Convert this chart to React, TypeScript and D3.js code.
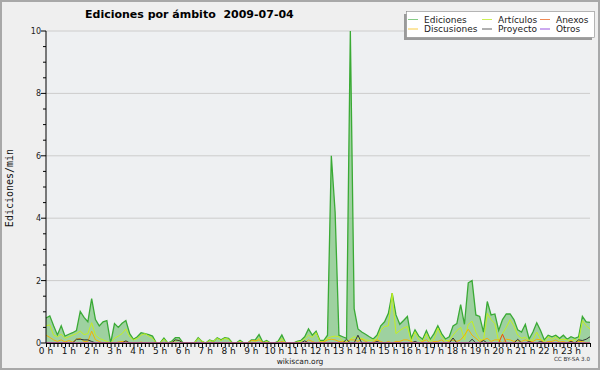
import * as React from "react";
import * as d3 from "d3";

// edits per minute, one value per 10 minutes (00:00 .. 23:50)
const ediciones = [
  0.8, 0.87, 0.55, 0.26, 0.55, 0.22, 0.28, 0.33, 0.4, 1.01, 0.82, 0.68,
  1.42, 0.75, 0.55, 0.68, 0.72, 0, 0.62, 0.5, 0.63, 0.72, 0.3, 0.12,
  0.2, 0.33, 0.3, 0.27, 0.22, 0, 0, 0.16, 0, 0.05, 0.17, 0.17,
  0, 0, 0, 0, 0.17, 0.05, 0, 0.1, 0.05, 0.17, 0.1, 0.17,
  0.15, 0, 0, 0.09, 0, 0, 0.1, 0.1, 0.27, 0.02, 0.08, 0,
  0, 0.05, 0.26, 0, 0, 0, 0.05, 0.08, 0.2, 0.45, 0.25, 0.38,
  0.08, 0.08, 0.25, 6.0, 4.2, 0.25, 0.2, 0.15, 10, 1.1, 0.45, 0.35,
  0.28, 0.2, 0.13, 0.25, 0.55, 0.68, 0.95, 1.6, 0.9, 0.6, 0.72, 0.85,
  0.15, 0.42, 0.22, 0.12, 0.4, 0.12, 0.3, 0.55, 0.3, 0.13, 0.2, 0.55,
  0.62, 1.23, 0.6, 1.93, 2.0, 0.9, 0.85, 0.35, 1.33, 0.9, 0.93, 0.4,
  0.75, 0.93, 0.93, 0.75, 0.42, 0.35, 0.6, 0.13, 0.35, 0.65, 0.4, 0.1,
  0.25, 0.2, 0.25, 0.15, 0.25, 0.12, 0.2, 0.15, 0.2, 0.85, 0.68, 0.66,
];

const articulos = [
  0.55, 0.58, 0.25, 0.2, 0.28, 0.15, 0.2, 0.25, 0.3, 0.38, 0.27, 0.3,
  0.65, 0.25, 0.15, 0.1, 0.05, 0, 0.15, 0.22, 0.3, 0.45, 0.2, 0.1,
  0.15, 0.25, 0.3, 0.22, 0.15, 0, 0, 0.12, 0, 0.03, 0.07, 0.09,
  0, 0, 0, 0, 0.15, 0.05, 0, 0.08, 0.05, 0.15, 0.08, 0.15,
  0.12, 0, 0, 0.05, 0, 0, 0.02, 0.03, 0.15, 0, 0.05, 0,
  0, 0.03, 0.15, 0, 0, 0, 0.03, 0.05, 0.13, 0.25, 0.18, 0.33,
  0.05, 0.05, 0.15, 0.2, 0.22, 0.2, 0.08, 0.03, 0.12, 0.2, 0.15, 0.15,
  0.1, 0.08, 0.1, 0.1, 0.42, 0.53, 0.55, 1.6, 0.3, 0.4, 0.48, 0.53,
  0.05, 0.36, 0.1, 0.05, 0.3, 0.05, 0.12, 0.48, 0.2, 0.08, 0.08, 0.25,
  0.4, 0.5, 0.1, 0.6, 0.7, 0.35, 0.12, 0.08, 0.95, 0.75, 0.62, 0.05,
  0.3, 0.5, 0.75, 0.55, 0.25, 0.15, 0.18, 0.08, 0.1, 0.35, 0.12, 0.05,
  0.2, 0.12, 0.2, 0.1, 0.12, 0.1, 0.07, 0.12, 0.05, 0.72, 0.55, 0.45,
];

const discusiones = [
  0.25, 0.18, 0.1, 0.05, 0.1, 0.03, 0.08, 0.03, 0.12, 0.15, 0.05, 0.05,
  0.38, 0.1, 0.05, 0, 0, 0, 0, 0.03, 0.05, 0.05, 0, 0,
  0, 0.03, 0, 0, 0, 0, 0, 0, 0, 0, 0, 0,
  0, 0, 0, 0, 0, 0, 0, 0, 0, 0, 0, 0,
  0, 0, 0, 0, 0, 0, 0.08, 0.07, 0.1, 0.02, 0, 0,
  0, 0, 0.05, 0, 0, 0, 0, 0, 0, 0.1, 0.05, 0,
  0.03, 0.03, 0.1, 0.12, 0.1, 0.05, 0.05, 0, 0.1, 0.1, 0.05, 0.12,
  0.05, 0, 0.03, 0.1, 0.05, 0, 0.05, 0, 0.05, 0.05, 0.1, 0.1,
  0.05, 0, 0, 0.05, 0.1, 0, 0.05, 0.05, 0.1, 0, 0.05, 0.1,
  0.05, 0.1, 0.25, 0.44, 0.25, 0.15, 0.05, 0.1, 0.15, 0.05, 0.1, 0.1,
  0, 0.12, 0.1, 0.05, 0.08, 0.05, 0.1, 0.05, 0.05, 0.12, 0.1, 0,
  0.05, 0.05, 0.1, 0.03, 0.05, 0, 0.08, 0, 0.05, 0.05, 0, 0,
];

const proyecto = [
  0, 0, 0, 0, 0, 0, 0, 0, 0.12, 0.12, 0.1, 0.1,
  0.05, 0, 0, 0, 0, 0, 0, 0, 0, 0.07, 0, 0,
  0, 0, 0, 0, 0, 0, 0, 0, 0, 0, 0.1, 0.08,
  0, 0, 0, 0, 0, 0, 0, 0, 0, 0, 0, 0,
  0, 0, 0, 0, 0, 0, 0, 0, 0, 0, 0, 0,
  0, 0, 0, 0, 0, 0, 0, 0, 0.07, 0, 0, 0,
  0, 0, 0, 0, 0, 0, 0, 0.12, 0, 0, 0.25, 0,
  0, 0, 0, 0.05, 0, 0, 0, 0, 0, 0, 0, 0,
  0, 0.05, 0, 0, 0, 0, 0, 0, 0, 0, 0, 0.16,
  0, 0, 0, 0, 0.12, 0, 0, 0.08, 0, 0, 0, 0,
  0, 0, 0, 0, 0.12, 0, 0, 0.05, 0, 0, 0.05, 0,
  0, 0, 0, 0, 0, 0, 0.05, 0, 0.1, 0.08, 0.12, 0.2,
];

const anexos = [
  0, 0, 0, 0, 0, 0, 0, 0, 0, 0, 0, 0,
  0, 0, 0, 0, 0, 0, 0, 0, 0, 0, 0, 0,
  0, 0, 0, 0, 0, 0, 0, 0, 0, 0, 0, 0,
  0, 0, 0, 0, 0, 0, 0, 0, 0, 0, 0, 0,
  0, 0, 0, 0, 0, 0, 0, 0, 0, 0, 0, 0,
  0, 0, 0, 0, 0, 0, 0, 0, 0, 0, 0, 0,
  0, 0, 0, 0, 0, 0, 0, 0, 0, 0, 0, 0,
  0, 0, 0, 0, 0, 0, 0, 0, 0, 0, 0, 0,
  0, 0, 0, 0, 0, 0, 0, 0, 0, 0, 0, 0,
  0, 0, 0, 0, 0, 0, 0, 0, 0, 0, 0, 0,
  0.28, 0, 0, 0, 0, 0, 0, 0, 0, 0, 0, 0,
  0, 0, 0, 0, 0, 0, 0, 0, 0, 0, 0, 0,
];

const otros = [
  0, 0, 0, 0, 0, 0, 0, 0, 0, 0, 0, 0,
  0, 0, 0, 0, 0, 0, 0, 0, 0, 0, 0, 0,
  0, 0, 0, 0, 0, 0, 0, 0, 0, 0, 0, 0,
  0, 0, 0, 0, 0, 0, 0, 0, 0, 0, 0, 0,
  0, 0, 0, 0, 0, 0, 0, 0, 0, 0, 0, 0,
  0, 0, 0, 0, 0, 0, 0, 0, 0, 0, 0, 0,
  0, 0, 0, 0, 0, 0, 0, 0, 0, 0, 0, 0,
  0, 0, 0, 0, 0, 0, 0, 0, 0, 0, 0, 0,
  0, 0, 0, 0, 0, 0, 0, 0, 0, 0, 0, 0,
  0, 0, 0, 0, 0, 0, 0, 0, 0, 0, 0, 0,
  0, 0, 0, 0, 0, 0, 0, 0, 0, 0, 0, 0,
  0, 0, 0, 0, 0, 0, 0, 0, 0, 0, 0, 0,
];

const hours = d3.range(0, 24);
const yLabels = [0, 2, 4, 6, 8, 10];

const legendRows = [
  [
    { name: "Ediciones", color: "#86cc86" },
    { name: "Artículos", color: "#ccf055" },
    { name: "Anexos", color: "#f08a55" },
  ],
  [
    { name: "Discusiones", color: "#f8cc44" },
    { name: "Proyecto", color: "#606060" },
    { name: "Otros", color: "#9955e0" },
  ],
];

const W = 600;
const H = 370;
const left = 46, right = 590, top = 31, bottom = 343;
const font = "'DejaVu Sans', sans-serif";

export default function App() {
  const x = d3.scaleLinear().domain([0, 1430]).range([left, right]);
  const y = d3.scaleLinear().domain([0, 10]).range([bottom, top]);

  const line = d3.line<number>().x((d, i) => x(i * 10)).y(d => y(d));
  const area = d3.area<number>().x((d, i) => x(i * 10)).y0(y(0)).y1(d => y(d));

  const minorY = d3.range(0, 10.01, 0.5);
  const minorX = d3.range(0, 1431, 10);

  const lines = [
    { data: articulos, color: "#c4f020" },
    { data: discusiones, color: "#f4b400" },
    { data: proyecto, color: "#333333" },
    { data: anexos, color: "#ee4a14" },
    { data: otros, color: "#8844dd" },
  ];

  return (
    <svg width={W} height={H} style={{ position: "absolute", left: 0, top: 0 }} fontFamily={font}>
      <rect x={0} y={0} width={W} height={H} fill="#efefef" />
      <rect x={1} y={1} width={W - 2} height={H - 2} fill="none" stroke="#a8a8a8" strokeWidth={2} />
      <rect x={left} y={top} width={right - left} height={bottom - top} fill="#eef0f2" />

      {yLabels.slice(1).map(v => (
        <line key={v} x1={left} x2={right} y1={y(v)} y2={y(v)} stroke="#cccccc" />
      ))}

      <path d={area(ediciones) || ""} fill="#5cb85c" fillOpacity={0.55} />
      <path d={line(ediciones) || ""} fill="none" stroke="#3aaa35" strokeWidth={1.3} />
      {lines.map((s, k) => (
        <path key={k} d={line(s.data) || ""} fill="none" stroke={s.color} strokeWidth={1} />
      ))}

      {/* y axis */}
      <line x1={left} x2={left} y1={top} y2={bottom} stroke="#000" />
      {minorY.map(v => (
        <line key={v} x1={left - (v % 2 === 0 ? 5 : 3)} x2={left} y1={y(v)} y2={y(v)} stroke="#000" />
      ))}
      {yLabels.map(v => (
        <text key={v} x={41} y={y(v) + 3} fontSize={8} textAnchor="end" fill="#222">{v}</text>
      ))}
      <text
        transform={`translate(13, 188) rotate(-90)`}
        fontSize={10}
        fontFamily="'DejaVu Sans Mono', monospace"
        textAnchor="middle"
        fill="#111"
      >Ediciones/min</text>

      {/* x axis */}
      <line x1={left} x2={right} y1={bottom + 0.5} y2={bottom + 0.5} stroke="#000" />
      {minorX.map(m => (
        <line key={m} x1={x(m) + 0.5} x2={x(m) + 0.5} y1={bottom} y2={bottom + 4} stroke="#000" />
      ))}
      {hours.map(h => (
        <text key={h} x={x(h * 60)} y={354} fontSize={9} textAnchor="middle" fill="#111">{h} h</text>
      ))}

      <text x={85} y={18} fontSize={11} fontWeight="bold" fill="#000">
        Ediciones por ámbito{"\u00a0\u00a0"}2009-07-04
      </text>

      {/* legend */}
      <rect x={404} y={14} width={188} height={26} fill="#9a9a9a" />
      <rect x={406.5} y={11.5} width={188} height={26} fill="#ffffff" stroke="#888" strokeWidth={0.6} />
      {legendRows.map((row, r) =>
        row.map((item, c) => {
          const lx = [408, 482, 540][c];
          const ly = 19.5 + r * 9.5;
          return (
            <g key={item.name}>
              <line x1={lx} x2={lx + 10} y1={ly} y2={ly} stroke={item.color} strokeWidth={1} />
              <text x={lx + 16} y={ly + 3} fontSize={9} fill="#222">{item.name}</text>
            </g>
          );
        })
      )}

      <text x={300} y={364} fontSize={7.5} textAnchor="middle" fill="#222">wikiscan.org</text>
      <text x={590} y={361} fontSize={5.6} textAnchor="end" fill="#333">CC BY-SA 3.0</text>
    </svg>
  );
}
